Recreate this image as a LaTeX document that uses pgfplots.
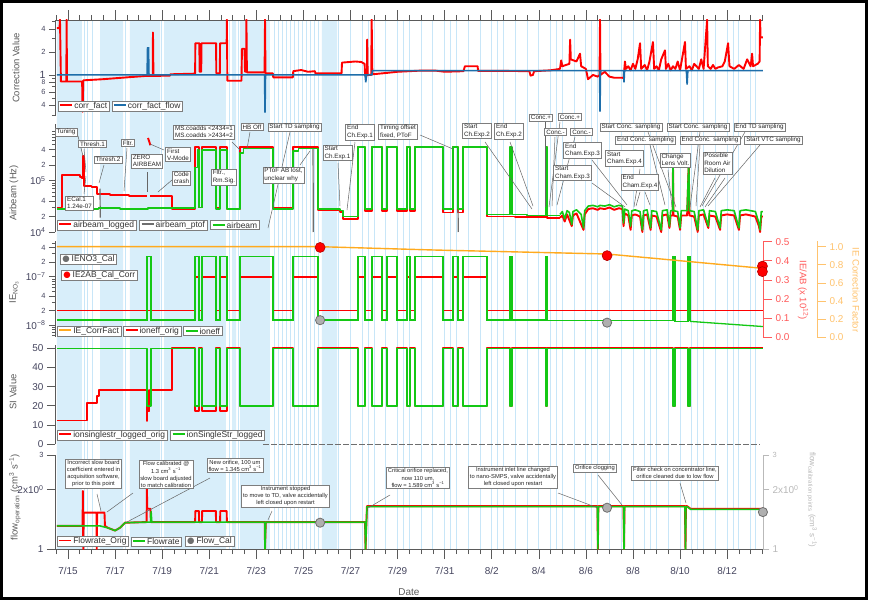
\documentclass[border=0pt]{standalone}
\usepackage{fontspec}
\setmainfont{Liberation Sans}
\newfontfamily\symfont{DejaVu Sans}
\usepackage{pgfplots}
\pgfplotsset{compat=1.18}
\pgfplotsset{/pgf/number format/assume math mode=true}
\definecolor{cred}{RGB}{255,0,0}
\definecolor{cgreen}{RGB}{20,200,20}
\definecolor{cblue}{RGB}{30,110,170}
\definecolor{corange}{RGB}{255,170,30}
\definecolor{cgrey}{RGB}{110,110,110}
\definecolor{axgrey}{RGB}{90,90,90}
\definecolor{tkgrey}{RGB}{70,70,95}
\definecolor{bgfill}{RGB}{216,238,250}
\definecolor{bgline}{RGB}{200,230,248}
\definecolor{boxgrey}{RGB}{125,125,125}
\definecolor{lred}{RGB}{255,90,90}
\definecolor{lorange}{RGB}{255,195,110}
\definecolor{lgrey}{RGB}{185,185,185}
\definecolor{dotgrey}{RGB}{175,175,175}
\newcommand{\lgl}[1]{\textcolor{#1}{\rule[0.28em]{12bp}{1.8bp}}\hspace{2bp}}
\newcommand{\lgd}[1]{\textcolor{#1}{\symfont ●}\hspace{2bp}}
\newcommand{\sm}{\fontsize{7.5}{8}\selectfont}
\pgfplotsset{
  pan/.style={scale only axis, width=708bp, xmin=14.448, xmax=44.524, anchor=south west,
    clip mode=individual, axis x line=none, axis y line*=left, xtick=\empty,
    axis line style={axgrey, line width=0.6bp}, tick style={axgrey, line width=0.6bp},
    tick align=outside, major tick length=6bp, minor tick length=3bp,
    yticklabel style={font=\fontsize{10}{10}\selectfont, text=tkgrey}},
  rl/.style={line width=1.9bp, cred, line join=round},
  gl/.style={line width=1.6bp, cgreen, line join=round},
}
\begin{document}
\begin{tikzpicture}
\useasboundingbox (0,0) rectangle (870bp,-601bp);
\fill[white] (0,0) rectangle (870bp,-601bp);
% ---------- background stripes
\begin{axis}[scale only axis, width=708bp, height=529bp, at={(55bp,-549bp)}, anchor=south west,
  xmin=14.448, xmax=44.524, ymin=0, ymax=1, hide axis]
\addplot[fill=bgfill, draw=none, const plot] coordinates {(14.53,1)(15.59,0)(16.36,1)(17.34,0)(17.63,1)(18.91,0)(19.08,1)(21.71,0)(21.97,1)(22.14,0)(22.31,1)(23.58,0)(25.79,1)(26.43,0)} \closedcycle;
\addplot[ycomb, bgline, line width=0.9bp] coordinates {(15.72,1)(15.81,1)(16.06,1)(17.46,1)(18.95,1)(21.85,1)(22.22,1)(23.75,1)(23.92,1)(24.09,1)(24.26,1)(24.43,1)(24.60,1)(24.77,1)(24.94,1)(25.11,1)(25.28,1)(25.45,1)(25.62,1)(26.5,1)(27,1)(27.5,1)(27.75,1)(28,1)(28.5,1)(29,1)(29.25,1)(29.5,1)(30,1)(30.5,1)(31,1)(31.25,1)(31.5,1)(32,1)(32.5,1)(33,1)(33.25,1)(33.5,1)(34,1)(34.5,1)(35,1)(35.5,1)(35.75,1)(36,1)(36.5,1)(37,1)(37.25,1)(37.5,1)(38,1)(38.5,1)(39,1)(39.5,1)(39.75,1)(40,1)(40.5,1)(41,1)(41.5,1)(41.75,1)(42,1)(42.5,1)(43,1)(43.25,1)(43.5,1)(44,1)(44.2,1)};
\end{axis}
% ---------- date axis (top and bottom)
\begin{axis}[scale only axis, width=708bp, height=529bp, at={(55bp,-549bp)}, anchor=south west,
  xmin=14.448, xmax=44.524, ymin=0, ymax=1, axis x line*=box, axis y line=none,
  xtick={15,17,...,43}, xticklabels={7/15,7/17,7/19,7/21,7/23,7/25,7/27,7/29,7/31,8/2,8/4,8/6,8/8,8/10,8/12},
  minor xtick={14.5,15,...,44.5}, tick align=outside, major tick length=10bp, minor tick length=5bp,
  axis line style={axgrey, line width=0.6bp}, tick style={axgrey, line width=0.6bp},
  xticklabel style={font=\fontsize{10}{11}\selectfont, text=tkgrey, yshift=-5bp}]
\addplot[draw=none] coordinates {(20,0.5)};
\end{axis}
% ---------- panel 1: correction value
\begin{axis}[pan, height=96bp, at={(55bp,-116bp)}, ymode=log, ymin=0.29, ymax=5.24,
  ytick={0.4,0.6,0.8,1,2,4}, yticklabels={{\sm 4},{\sm 6},{\raisebox{-1.5bp}{\fontsize{6.8}{7}\selectfont 8}},{\fontsize{10.5}{11}\selectfont 1\hspace{3.5bp}},{\sm 2},{\sm 4}},
  minor ytick={0.3,0.5,0.7,0.9,3,5}]
\addplot[line width=1.9bp, cred, line join=round] coordinates {(14.53,4.1)(14.64,4.1)(14.66,5.3)(14.70,0.82)(14.93,0.82)(14.94,5.3)(14.96,0.82)(15.60,0.82)(15.62,0.33)(15.65,0.85)(16.5,0.88)(17.5,0.93)(18.3,0.97)(18.60,0.97)(18.61,3.6)(18.63,0.97)(19.33,0.98)(19.35,1.02)(20.40,1.04)(20.41,2.6)(20.58,2.6)(20.59,1.1)(20.66,1.1)(20.67,2.6)(21.29,2.6)(21.30,1.05)(21.45,1.05)(21.46,2.6)(21.74,2.6)(21.75,5.3)(21.77,0.84)(22.37,0.84)(22.39,2.2)(22.50,2.2)(22.52,1.1)(22.57,1.1)(22.58,5.3)(22.60,1.08)(23.35,1.08)(23.37,5.3)(23.39,1.05)(23.70,1.05)(23.72,0.93)(24.55,0.93)(24.57,1.12)(24.9,1.16)(25.2,1.1)(25.49,1.12)(25.51,1.05)(26.62,1.05)(26.64,1.45)(27.2,1.5)(27.45,1.48)(27.60,1.40)(27.62,0.98)(27.70,0.98)(27.71,2.9)(27.73,1.0)(27.88,1.0)(27.90,5.3)(27.93,1.02)(28.5,1.06)(29,1.1)(29.5,1.12)(30.0,1.14)(30.6,1.14)(31.0,1.1)(31.8,1.12)(31.86,1.3)(32.4,1.3)(32.42,1.13)(33.5,1.13)(34.6,1.12)(34.65,0.98)(34.75,1.0)(34.8,1.12)(35.5,1.15)(35.9,1.2)(35.95,1.55)(36.0,1.3)(36.3,1.4)(36.33,2.9)(36.36,1.6)(36.6,1.5)(36.75,1.9)(36.8,1.3)(37.0,1.2)(37.09,0.88)(37.3,1.0)(37.5,0.95)(37.58,1.0)(37.60,5.3)(37.62,1.0)(37.8,1.1)(38.0,0.95)(38.2,0.92)(38.55,0.92)(38.60,0.9)(38.66,1.5)(38.7,1.2)(38.8,1.3)(38.9,1.15)(39.0,1.4)(39.1,1.2)(39.2,1.6)(39.3,2.6)(39.35,1.2)(39.5,1.35)(39.6,1.15)(39.7,1.5)(39.85,2.7)(39.9,1.2)(40.0,1.3)(40.1,1.15)(40.2,1.6)(40.36,2.1)(40.4,1.2)(40.5,1.4)(40.6,1.15)(40.7,1.3)(40.8,1.2)(40.9,1.5)(41.0,1.15)(41.21,2.7)(41.25,1.2)(41.4,1.3)(41.5,1.15)(41.6,1.4)(41.8,1.2)(41.9,1.6)(42.0,1.2)(42.15,5.3)(42.18,1.3)(42.3,1.2)(42.4,1.35)(42.5,1.2)(42.6,1.25)(42.8,1.3)(42.9,1.5)(43.04,2.6)(43.1,1.3)(43.3,1.2)(43.5,1.35)(43.7,1.2)(43.85,1.6)(44.0,1.3)(44.06,1.9)(44.1,1.3)(44.3,1.4)(44.38,1.5)(44.40,5.3)(44.42,3.1)(44.52,3.1)};
\addplot[line width=1.6bp, cblue] coordinates {(14.53,1)(18.36,1)(18.38,2.25)(18.42,2.25)(18.44,1)(23.35,1)(23.37,0.32)(23.39,1)(27.62,1)(27.65,0.8)(27.68,1)(27.91,1)(27.93,1.14)(37.58,1.14)(37.60,0.33)(37.62,1.14)(38.60,1.14)(38.62,0.8)(38.64,1.14)(41.27,1.14)(41.30,0.75)(41.33,1.14)(44.52,1.14)};
\end{axis}
% ---------- panel 2: airbeam
\begin{axis}[pan, height=108bp, at={(55bp,-232bp)}, ymode=log, ymin=1e4, ymax=1.27e6,
  ytick={1e4,2e4,4e4,1e5,2e5,4e5}, yticklabels={10\textsuperscript{4},{\sm 2},{\sm 4},10\textsuperscript{5},{\sm 2},{\sm 4}},
  minor ytick={3e4,5e4,6e4,7e4,8e4,9e4,3e5,5e5,6e5,7e5,8e5,9e5}]
\addplot[rl, const plot] coordinates {(14.53,3e4)(14.76,1.3e5)(15.5,1.2e5)(15.6,1.1e5)(15.64,3e5)(15.67,8e4)(16.0,7.5e4)(16.25,5.5e4)(16.8,5.2e4)(17.6,5e4)(18.36,5e4)};
\addplot[rl] coordinates {(18.40,6.8e5)(18.50,4.9e5)};
\addplot[rl, const plot] coordinates {(18.48,5e4)(19.42,2.8e4)(20.40,4.5e5)(20.57,3e4)(20.69,4.5e5)(21.29,3e4)(21.46,4.5e5)(21.75,2.8e4)(22.31,4.5e5)(23.71,3e4)(24.56,4.5e5)(25.62,2.7e4)(26.55,2.5e4)(26.68,1.8e4)(27.32,4.5e5)(27.62,2.6e4)(27.91,4.5e5)(28.34,2.6e4)(28.55,4.5e5)(28.98,2.6e4)(29.40,4.5e5)(29.53,2.6e4)(29.74,4.5e5)(30.93,2.4e4)(31.36,4.5e5)(31.57,2.4e4)(31.78,4.5e5)(32.80,2e4)(34.0,1.95e4)(35.31,4.5e5)(35.35,1.9e4)(35.90,1.9e4)};
\addplot[rl] coordinates {(35.90,1.9e4)(36.0,2.1e4)(36.1,1.6e4)(36.2,2.2e4)(36.4,1.3e4)(36.45,2.1e4)(36.6,2.3e4)(36.9,1.1e4)(36.95,2.2e4)(37.1,2.8e4)(37.3,2.9e4)(37.5,2.7e4)(37.6,2.9e4)(37.8,2.8e4)(38.0,3e4)(38.2,2.7e4)(38.4,2.9e4)(38.55,2.8e4)(38.6,1.3e4)(38.65,2.3e4)(38.8,2.1e4)(38.9,1.1e4)(38.95,2.1e4)(39.1,2.2e4)(39.3,2e4)(39.4,1e4)(39.45,2.1e4)(39.6,2.2e4)(39.75,1.1e4)(39.8,2.1e4)(40.0,2e4)(40.2,1e4)(40.25,2.1e4)(40.45,2.2e4)(40.55,1.2e4)(40.6,2.1e4)(40.69,2.1e4)(40.70,2.2e5)(40.72,2.1e4)(40.9,2e4)(41.0,1.1e4)(41.05,2.1e4)(41.3,2.1e4)(41.37,2.2e5)(41.40,2.1e4)(41.6,2e4)(41.75,1e4)(41.8,2.1e4)(42.0,2.2e4)(42.2,1.2e4)(42.25,2.1e4)(42.5,2e4)(42.7,1.1e4)(42.75,2.1e4)(43.0,2.2e4)(43.3,2.1e4)(43.5,1.1e4)(43.55,2.1e4)(43.8,2.2e4)(44.0,2.1e4)(44.2,2e4)(44.35,1.3e4)(44.4,1e4)(44.45,2e4)(44.52,2e4)};
\addplot[line width=1.2bp, cgrey, unbounded coords=jump] coordinates {(16.36,7e4)(16.37,1.9e4)(16.5,nan)(25.41,4.1e5)(25.42,1e4)(25.5,nan)(31.57,2.7e4)(31.58,1e4)};
\addplot[gl, const plot] coordinates {(14.53,2.8e4)(16.3,2.9e4)(17.2,2.8e4)(18.4,2.9e4)(20.40,1.8e5)(20.50,4e5)(20.57,3e4)(20.69,4e5)(21.29,2.8e4)(21.46,4e5)(21.75,2.8e4)(22.31,3.5e5)(22.45,4.2e5)(23.71,2.8e4)(24.56,3.8e5)(24.8,4.2e5)(25.62,2.8e4)(26.55,2.6e4)(26.68,2e4)(27.32,4.5e5)(27.62,2.8e4)(27.91,4.5e5)(28.34,2.8e4)(28.55,4.5e5)(28.98,2.8e4)(29.40,4.5e5)(29.53,2.8e4)(29.74,4.5e5)(30.93,2.8e4)(31.36,4.5e5)(31.57,2.8e4)(31.78,4.5e5)(32.80,2.2e4)(33.78,4.5e5)(33.86,2.2e4)(34.5,2.1e4)(35.31,4.5e5)(35.35,2.1e4)(35.90,2.1e4)};
\addplot[gl] coordinates {(35.90,2.2e4)(36.0,2.5e4)(36.1,1.8e4)(36.2,2.6e4)(36.3,2.4e4)(36.4,1.4e4)(36.45,2.5e4)(36.6,2.7e4)(36.8,2.2e4)(36.9,1.2e4)(36.95,2.6e4)(37.1,3.2e4)(37.3,3.3e4)(37.5,3.1e4)(37.6,3.3e4)(37.8,3.2e4)(38.0,3.4e4)(38.2,3.1e4)(38.4,3.3e4)(38.55,3.2e4)(38.6,1.5e4)(38.65,2.8e4)(38.8,2.6e4)(38.9,1.3e4)(38.95,2.6e4)(39.1,2.7e4)(39.3,2.5e4)(39.4,1.1e4)(39.45,2.6e4)(39.6,2.7e4)(39.75,1.2e4)(39.8,2.6e4)(40.0,2.5e4)(40.2,1.1e4)(40.25,2.6e4)(40.45,2.7e4)(40.55,1.3e4)(40.6,2.6e4)(40.69,2.6e4)(40.70,2.4e5)(40.72,2.6e4)(40.9,2.5e4)(41.0,1.2e4)(41.05,2.6e4)(41.3,2.6e4)(41.37,2.4e5)(41.40,2.6e4)(41.6,2.5e4)(41.75,1.1e4)(41.8,2.6e4)(42.0,2.7e4)(42.2,1.3e4)(42.25,2.6e4)(42.5,2.5e4)(42.7,1.2e4)(42.75,2.6e4)(43.0,2.7e4)(43.3,2.6e4)(43.5,1.2e4)(43.55,2.6e4)(43.8,2.7e4)(44.0,2.6e4)(44.2,2.5e4)(44.35,1.5e4)(44.4,1.1e4)(44.45,2.5e4)(44.52,2.5e4)};
\end{axis}
% ---------- panel 3: IE (left log axis)
\begin{axis}[pan, height=96bp, at={(55bp,-337bp)}, ymode=log, ymin=5.65e-9, ymax=5.48e-7,
  ytick={1e-8,2e-8,4e-8,1e-7,2e-7,4e-7}, yticklabels={10\textsuperscript{−8},{\sm 2},{\sm 4},10\textsuperscript{−7},{\sm 2},{\sm 4}},
  minor ytick={6e-9,7e-9,8e-9,9e-9,3e-8,5e-8,6e-8,7e-8,8e-8,9e-8,3e-7,5e-7}]
\addplot[line width=1.7bp, cred, const plot] coordinates {(14.53,2e-8)(20.40,1e-7)(20.57,2e-8)(20.69,1e-7)(21.29,2e-8)(21.46,1e-7)(21.75,2e-8)(22.31,1e-7)(23.71,2e-8)(24.56,1e-7)(25.62,2e-8)(27.32,1e-7)(27.62,2e-8)(27.91,1e-7)(28.34,2e-8)(28.55,1e-7)(28.98,2e-8)(29.40,1e-7)(29.53,2e-8)(29.74,1e-7)(30.93,2e-8)(31.36,1e-7)(31.57,2e-8)(31.78,1e-7)(32.80,2e-8)(33.78,1e-7)(33.86,2e-8)(35.31,1e-7)(35.35,2e-8)(40.70,1e-7)(40.78,2e-8)(41.34,1e-7)(41.42,2e-8)(44.52,2e-8)};
\addplot[line width=1.3bp, cgreen, const plot] coordinates {(14.53,1.27e-8)(18.36,2.6e-7)(18.53,1.27e-8)(20.40,2.6e-7)(20.57,1.27e-8)(20.69,2.6e-7)(21.29,1.27e-8)(21.46,2.6e-7)(21.75,1.27e-8)(22.31,2.6e-7)(23.71,1.27e-8)(24.56,2.6e-7)(25.62,1.27e-8)(27.32,2.6e-7)(27.62,1.27e-8)(27.91,2.6e-7)(28.34,1.27e-8)(28.55,2.6e-7)(28.98,1.27e-8)(29.40,2.6e-7)(29.53,1.27e-8)(29.74,2.6e-7)(30.93,1.27e-8)(31.36,2.6e-7)(31.57,1.27e-8)(31.78,2.6e-7)(32.80,1.27e-8)(33.78,2.6e-7)(33.86,1.27e-8)(35.31,2.6e-7)(35.35,1.25e-8)(40.70,2.6e-7)(40.78,1.2e-8)(41.34,2.6e-7)(41.42,1.19e-8)};
\addplot[line width=1.3bp, cgreen] coordinates {(41.42,1.19e-8)(44.52,9.3e-9)};
\addplot[only marks, mark=*, mark size=4.6bp, draw=cgrey, fill=dotgrey, line width=0.8bp] coordinates {(25.71,1.26e-8)(37.90,1.12e-8)};
\end{axis}
% ---------- panel 3: IE correction factor (orange, outer right axis)
\begin{axis}[pan, width=762bp, xmax=46.818, height=96bp, at={(55bp,-337bp)}, ymin=0, ymax=1.063,
  axis y line*=right, ytick={0,0.2,0.4,0.6,0.8,1},
  axis line style={lorange, line width=0.6bp}, tick style={lorange, line width=0.6bp}, major tick length=9bp,
  yticklabel style={text=lorange, /pgf/number format/.cd, fixed, fixed zerofill, precision=1}]
\addplot[line width=1.4bp, corange] coordinates {(14.53,1.0)(25.71,1.0)(30.59,0.963)(37.90,0.919)(44.52,0.76)};
\end{axis}
% ---------- panel 3: IE/AB (red right axis)
\begin{axis}[pan, height=96bp, at={(55bp,-337bp)}, ymin=0, ymax=0.5037,
  axis y line*=right, ytick={0,0.1,0.2,0.3,0.4,0.5},
  axis line style={lred, line width=0.6bp}, tick style={lred, line width=0.6bp}, major tick length=9bp,
  yticklabel style={text=lred, /pgf/number format/.cd, fixed, fixed zerofill, precision=1}]
\addplot[only marks, mark=*, mark size=5bp, draw=red!70!black, fill=cred, line width=0.6bp] coordinates {(25.71,0.47)(37.90,0.427)(44.50,0.372)(44.50,0.343)};
\end{axis}
% ---------- panel 4: SI value
\begin{axis}[pan, height=99.5bp, at={(55bp,-444bp)}, ymin=0, ymax=52, ytick={0,10,20,30,40,50}, major tick length=8bp]
\addplot[line width=0.9bp, cgrey, dashed, dash pattern=on 6bp off 2bp] coordinates {(23.3,0)(44.4,0)};
\addplot[rl, const plot] coordinates {(14.53,12.3)(15.81,21.4)(16.23,25)(16.32,28.4)(18.34,12)(18.37,28)(18.40,17)(18.44,20)(18.47,28.4)(19.42,50)(20.40,17.4)(20.57,50)(20.69,17.4)(21.29,50)(21.46,17.4)(21.75,50)(22.31,20)(23.71,50)(24.56,20)(25.62,50)(27.32,20)(27.62,50)(27.91,20)(28.34,50)(28.55,20)(28.98,50)(29.40,20)(29.53,50)(29.74,20)(30.93,50)(31.36,20)(31.57,50)(31.78,20)(32.80,50)(33.78,20)(33.86,50)(35.31,20)(35.35,50)(40.70,20)(40.78,50)(41.34,20)(41.42,50)(44.52,50)};
\addplot[gl, const plot] coordinates {(14.53,50)(18.36,20)(18.53,50)(20.40,20)(20.57,50)(20.69,20)(21.29,50)(21.46,20)(21.75,50)(22.31,20)(23.71,50)(24.56,20)(25.62,50)(27.32,20)(27.62,50)(27.91,20)(28.34,50)(28.55,20)(28.98,50)(29.40,20)(29.53,50)(29.74,20)(30.93,50)(31.36,20)(31.57,50)(31.78,20)(32.80,50)(33.78,20)(33.86,50)(35.31,20)(35.35,50)(40.70,20)(40.78,50)(41.34,20)(41.42,50)(44.52,50)};
\end{axis}
% ---------- panel 5: flow (left)
\begin{axis}[pan, height=94bp, at={(55bp,-549bp)}, ymode=log, ymin=1, ymax=3,
  ytick={1,2,3}, yticklabels={1,2x10\textsuperscript{0},{\sm 3}}, major tick length=8bp]
\addplot[rl] coordinates {(14.53,1.31)(15.62,1.31)(15.63,1.97)(15.65,1.0)(15.67,1.53)(16.21,1.53)(16.22,1.0)(16.24,1.53)(16.55,1.53)(16.57,1.31)(16.7,1.28)(17.0,1.24)(17.2,1.28)(17.42,1.36)(18.34,1.37)(18.35,2.04)(18.37,1.6)(18.50,1.6)(18.52,1.37)(20.40,1.37)(20.41,1.56)(20.56,1.56)(20.57,1.37)(20.69,1.37)(20.70,1.56)(21.28,1.56)(21.29,1.37)(21.46,1.37)(21.47,1.56)(21.74,1.56)(21.75,1.37)(23.36,1.37)(23.37,1.0)(23.40,1.37)(27.62,1.37)(27.64,1.0)(27.70,1.65)(37.49,1.65)(37.51,1.0)(37.53,1.65)(38.60,1.65)(38.62,1.0)(38.64,1.65)(41.21,1.65)(41.23,1.0)(41.25,1.65)(41.30,1.65)(41.45,1.6)(44.52,1.6)};
\addplot[gl] coordinates {(14.53,1.31)(16.36,1.31)(16.7,1.28)(17.0,1.24)(17.2,1.28)(17.42,1.36)(18.52,1.37)(18.53,1.55)(18.56,1.37)(23.36,1.37)(23.37,1.0)(23.40,1.37)(27.62,1.37)(27.64,1.0)(27.70,1.64)(37.49,1.64)(37.51,1.0)(37.53,1.64)(38.60,1.64)(38.62,1.0)(38.64,1.64)(41.21,1.64)(41.23,1.0)(41.25,1.64)(41.30,1.64)(41.45,1.59)(44.52,1.59)};
\end{axis}
% ---------- panel 5: flow calibration points (right)
\begin{axis}[pan, height=94bp, at={(55bp,-549bp)}, ymode=log, ymin=1, ymax=3,
  axis y line*=right, ytick={1,2,3}, yticklabels={1,2x10\textsuperscript{0},{\sm 3}},
  axis line style={lgrey, line width=0.6bp}, tick style={lgrey, line width=0.6bp}, major tick length=6bp,
  yticklabel style={text=lgrey}]
\addplot[only marks, mark=*, mark size=4.6bp, draw=cgrey, fill=dotgrey, line width=0.8bp] coordinates {(25.71,1.36)(37.90,1.62)(44.52,1.54)};
\end{axis}
% ---------- annotations, labels, legends (pixel coordinates)
\begin{scope}[x=1bp, y=-1bp]
\tikzset{ann/.style={draw=boxgrey, fill=white, line width=0.6bp, inner xsep=1.5bp, inner ysep=1.2bp,
    font=\fontsize{6.3}{7.4}\selectfont, align=left, text=black!85},
  fann/.style={ann, font=\fontsize{5.8}{7.1}\selectfont, align=center},
  lead/.style={draw=black!60, line width=0.5bp},
  lgb/.style={draw=boxgrey, fill=white, line width=0.6bp, inner xsep=2bp, inner ysep=1.2bp,
    font=\fontsize{8.5}{9}\selectfont, text=black!80, anchor=west},
  ylab/.style={font=\fontsize{9.5}{10}\selectfont, text=axgrey}}
% axis titles
\node[ylab, rotate=90] at (16,68) {Correction Value};
\node[ylab, rotate=90] at (14,193) {Airbeam (Hz)};
\node[ylab, rotate=90] at (14,292) {IE\textsubscript{NO\textsubscript{3}}};
\node[ylab, rotate=90] at (13,392) {SI Value};
\node[ylab, rotate=90] at (15,497) {flow\textsubscript{operation} (cm\textsuperscript{3} s\textsuperscript{−1})};
\node[ylab, font=\fontsize{10}{11}\selectfont] at (409,592) {Date};
\node[ylab, rotate=-90, text=lred] at (803,290) {IE/AB (x 10\textsuperscript{12})};
\node[ylab, rotate=-90, text=lorange] at (856,290) {IE Correction Factor};
\node[ylab, rotate=-90, text=lgrey, font=\fontsize{8}{9}\selectfont] at (812,500) {flow\textsubscript{calibration points} (cm\textsuperscript{3} s\textsuperscript{−1})};
% airbeam leader lines
\draw[lead] (78,136)--(83,156);
\draw[lead] (84,149)--(86,172);
\draw[lead] (104,165)--(99,183);
\draw[lead] (127,148)--(124,191);
\draw[lead] (147,172)--(147,192);
\draw[lead] (164,150)--(150,144);
\draw[lead] (172,180)--(158,192);
\draw[lead] (84,194)--(86,176);
\draw[lead] (232,142)--(240,150);
\draw[lead] (250,132)--(247,149);
\draw[lead] (290,132)--(268,228);
\draw[lead] (300,165)--(310,151);
\draw[lead] (338,163)--(340,206);
\draw[lead] (355,142)--(347,210);
\draw[lead] (420,135)--(453,149);
\draw[lead] (485,142)--(532,209);
\draw[lead] (510,142)--(533,206);
\draw[lead] (545,122)--(545,207);
\draw[lead] (560,122)--(549,207);
\draw[lead] (555,137)--(552,206);
\draw[lead] (575,137)--(557,205);
\draw[lead] (592,160)--(627,205);
\draw[lead] (592,183)--(625,207);
\draw[lead] (640,169)--(634,207);
\draw[lead] (640,192)--(636,206);
\draw[lead] (645,192)--(650,205);
\draw[lead] (668,170)--(672,207);
\draw[lead] (648,132)--(676,207);
\draw[lead] (650,145)--(665,205);
\draw[lead] (700,132)--(690,207);
\draw[lead] (700,145)--(696,206);
\draw[lead] (715,178)--(700,207);
\draw[lead] (725,178)--(705,207);
\draw[lead] (760,145)--(708,206);
\draw[lead] (745,132)--(702,206);
% airbeam boxes
\node[ann] at (66,132) {Tuning};
\node[ann] at (92.5,144) {Thresh.1};
\node[ann] at (108,159.5) {Thresh.2};
\node[ann] at (128,143) {Fltr.};
\node[ann] at (147,161) {ZERO\\AIRBEAM};
\node[ann] at (178,154.5) {First\\V-Mode};
\node[ann] at (181.5,178) {Code\\crash};
\node[ann] at (79.5,203) {ECal.1\\1.24e-07};
\node[ann] at (204,132) {MS.coadds \textless 2434=1\\MS.coadds \textgreater 2434=2};
\node[ann] at (252,127) {HB Off};
\node[ann] at (294.5,127) {Start TD sampling};
\node[ann] at (224,177) {Fltr.,\\Rm.Sig.};
\node[ann] at (283.5,175) {PToF AB lost,\\unclear why};
\node[ann] at (337.5,153) {Start\\Ch.Exp.1};
\node[ann] at (360,132) {End\\Ch.Exp.1};
\node[ann] at (398,131.5) {Timing offset\\fixed, PToF};
\node[ann] at (477,131) {Start\\Ch.Exp.2};
\node[ann] at (509,131) {End\\Ch.Exp.2};
\node[ann] at (541,117.5) {Conc.+};
\node[ann] at (570,117) {Conc.+};
\node[ann] at (555.5,132) {Conc.-};
\node[ann] at (581.5,132) {Conc.-};
\node[ann] at (582.5,150.5) {End\\Cham.Exp.3};
\node[ann] at (572.5,173) {Start\\Cham.Exp.3};
\node[ann] at (624.5,158.5) {Start\\Cham.Exp.4};
\node[ann] at (640,182) {End\\Cham.Exp.4};
\node[ann] at (675.5,160) {Change\\Lens Volt.};
\node[ann] at (631,127) {Start Conc. sampling};
\node[ann] at (698,127) {Start Conc. sampling};
\node[ann] at (759.5,127) {End TD sampling};
\node[ann] at (645.5,140) {End Conc. sampling};
\node[ann] at (710,140) {End Conc. sampling};
\node[ann] at (773.5,140) {Start VTC sampling};
\node[ann] at (717.5,163) {Possible\\Room Air\\Dilution};
% flow leader lines and boxes
\draw[lead] (97,494)--(101,511);
\draw[lead] (133,493)--(107,512);
\draw[lead] (210,478)--(127,522);
\draw[lead] (272,511)--(268,520);
\draw[lead] (390,495)--(368,508);
\draw[lead] (558,493)--(598,508);
\draw[lead] (598,475)--(622,505);
\draw[lead] (680,483)--(686,503);
\node[fann] at (93.5,473.5) {Incorrect slow board\\coefficient entered in\\acquisition software,\\prior to this point};
\node[fann] at (166,474.5) {Flow calibrated @\\1.3 cm\textsuperscript{3} s\textsuperscript{−1}\\slow board adjusted\\to match calibration};
\node[fann] at (235,465.5) {New orifice, 100 um\\flow = 1.345 cm\textsuperscript{3} s\textsuperscript{−1}};
\node[fann] at (285.5,496) {Instrument stopped\\to move to TD, valve accidentally\\left closed upon restart};
\node[fann] at (418,478) {Critical orifice replaced,\\now 110 um,\\flow = 1.589 cm\textsuperscript{3} s\textsuperscript{−1}};
\node[fann] at (513,477) {Instrument inlet line changed\\to nano-SMPS, valve accidentally\\left closed upon restart};
\node[fann] at (595,468) {Orifice clogging};
\node[fann] at (675,473) {Filter check on concentrator line,\\orifice cleaned due to low flow};
% legends
\node[lgb] (a1) at (58,106) {\lgl{cred}corr\_fact};
\node[lgb] at ([xshift=2bp]a1.east) {\lgl{cblue}corr\_fact\_flow};
\node[lgb] (b1) at (57,225) {\lgl{cred}airbeam\_logged};
\node[lgb] (b2) at ([xshift=3bp]b1.east) {\lgl{cgrey}airbeam\_ptof};
\node[lgb] at ([xshift=3bp]b2.east) {\lgl{cgreen}airbeam};
\node[lgb] at (60,259.5) {\lgd{cgrey}IENO3\_Cal};
\node[lgb] at (61,275.5) {\lgd{cred}IE2AB\_Cal\_Corr};
\node[lgb] (c1) at (57,331) {\lgl{corange}IE\_CorrFact};
\node[lgb] (c2) at ([xshift=2bp]c1.east) {\lgl{cred}ioneff\_orig};
\node[lgb] at ([xshift=2bp]c2.east) {\lgl{cgreen}ioneff};
\node[lgb] (d1) at (57,435) {\lgl{cred}ionsinglestr\_logged\_orig};
\node[lgb] at ([xshift=3bp]d1.east) {\lgl{cgreen}ionSingleStr\_logged};
\node[lgb] (e1) at (57,541.5) {\lgl{cred}Flowrate\_Orig};
\node[lgb] (e2) at ([xshift=2bp]e1.east) {\lgl{cgreen}Flowrate};
\node[lgb] at ([xshift=3bp]e2.east) {\lgd{cgrey}Flow\_Cal};
% outer frame
\draw[black, line width=2.6bp] (1.3,1.3) rectangle (866.5,598.7);
\end{scope}
\end{tikzpicture}
\end{document}
